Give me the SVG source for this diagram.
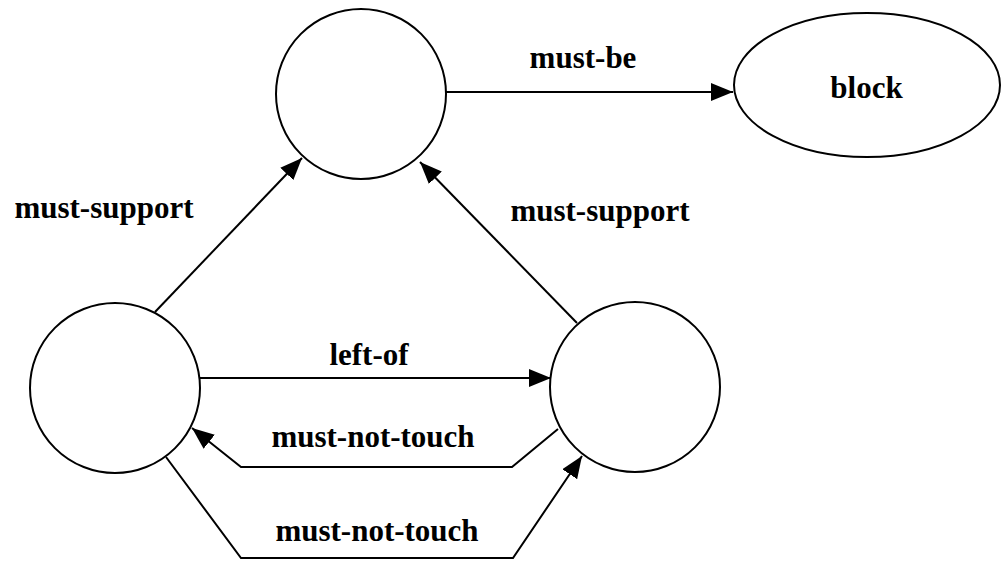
<svg xmlns="http://www.w3.org/2000/svg" width="1003" height="561" viewBox="0 0 1003 561">
<style>
.node{fill:#fff;stroke:#000;stroke-width:2}
.edge{fill:none;stroke:#000;stroke-width:2}
.lbl{font-family:'Times New Roman','Liberation Serif','DejaVu Serif',serif;font-weight:bold;font-size:31px;fill:#000}
</style>
<defs>
<marker id="ah" markerUnits="userSpaceOnUse" markerWidth="24" markerHeight="18" refX="22" refY="9" orient="auto">
<path d="M0,0 L22,9 L0,18 Z" fill="#000"/>
</marker>
</defs>
<rect width="1003" height="561" fill="#fff"/>
<g id="connectors">
<line class="edge" x1="446" y1="92" x2="733" y2="92" marker-end="url(#ah)"/>
<line class="edge" x1="200" y1="378" x2="551" y2="378" marker-end="url(#ah)"/>
<line class="edge" x1="155" y1="312" x2="302" y2="158" marker-end="url(#ah)"/>
<line class="edge" x1="577" y1="323" x2="420" y2="162" marker-end="url(#ah)"/>
<polyline class="edge" points="558,429 512,467 241,467 192,428" marker-end="url(#ah)"/>
<polyline class="edge" points="166,457 241,558 513,558 582,456" marker-end="url(#ah)"/>
</g>
<g id="n-top"><circle class="node" cx="361" cy="94" r="85"/></g>
<g id="n-left"><circle class="node" cx="115" cy="388" r="85"/></g>
<g id="n-right"><circle class="node" cx="635" cy="387" r="85"/></g>
<g id="n-block"><ellipse class="node" cx="867" cy="85" rx="133" ry="72"/>
<text class="lbl" x="866.5" y="98" text-anchor="middle" font-family="Liberation Serif, serif">block</text></g>
<g id="labels" font-family="Liberation Serif, serif">
<text class="lbl" x="583" y="68" text-anchor="middle">must-be</text>
<text class="lbl" x="104" y="218" text-anchor="middle">must-support</text>
<text class="lbl" x="600" y="221" text-anchor="middle">must-support</text>
<text class="lbl" x="369" y="365" text-anchor="middle">left-of</text>
<text class="lbl" x="373" y="447" text-anchor="middle">must-not-touch</text>
<text class="lbl" x="377" y="541" text-anchor="middle">must-not-touch</text>
</g>
</svg>
